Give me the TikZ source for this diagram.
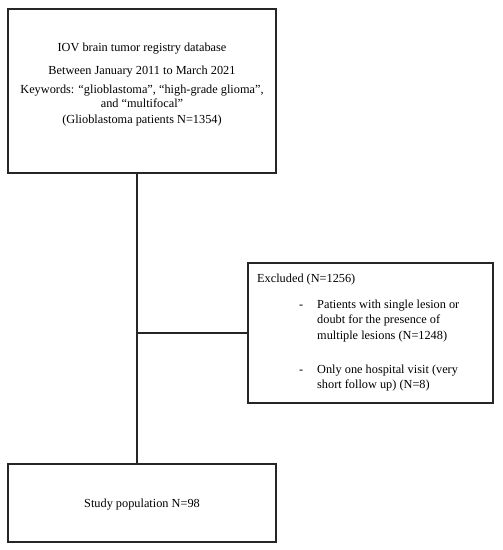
\documentclass[tikz,border=0pt]{standalone}
\usepackage{fontspec}
\setmainfont{Liberation Serif}
\begin{document}
\begin{tikzpicture}[x=1pt,y=-1pt,
  box/.style={draw=black!85,line width=1.2pt,inner sep=0pt,minimum width=#1},
  txt/.style={inner sep=0pt,anchor=base,font=\fontsize{12.3}{14}\selectfont},
  ltxt/.style={txt,anchor=base west},
  conn/.style={draw=black!85,line width=1.2pt}]
\useasboundingbox (0,0) rectangle (503,550);
% boxes
\node[box=268,minimum height=164] (top) at (142,91) {};
\node[box=245,minimum height=140] (excl) at (370.5,333) {};
\node[box=268,minimum height=78] (bot) at (142,503) {};
% top texts
\node[txt] (t1) at (142,51) {IOV brain tumor registry database};
\node[txt] (t2) at (142,74) {Between January 2011 to March 2021};
\node[txt] (t3) at (142,93) {Keywords: “glioblastoma”, “high-grade glioma”,};
\node[txt] (t4) at (142,107) {and “multifocal”};
\node[txt] (t5) at (142,123) {(Glioblastoma patients N=1354)};
% excluded texts
\node[ltxt] (e0) at (257,282) {Excluded (N=1256)};
\node[ltxt] (d1) at (299,308) {-};
\node[ltxt] (e1) at (317,308) {Patients with single lesion or};
\node[ltxt] (e2) at (317,323) {doubt for the presence of};
\node[ltxt] (e3) at (317,339) {multiple lesions (N=1248)};
\node[ltxt] (d2) at (299,373) {-};
\node[ltxt] (e4) at (317,373) {Only one hospital visit (very};
\node[ltxt] (e5) at (317,388) {short follow up) (N=8)};
% bottom text
\node[txt] (b1) at (142,507) {Study population N=98};
% connectors
\coordinate (j) at (137,333);
\draw[conn] ([xshift=-5pt]top.south) -- ([xshift=-5pt]bot.north);
\draw[conn] (j) -- (excl.west);
\end{tikzpicture}
\end{document}
